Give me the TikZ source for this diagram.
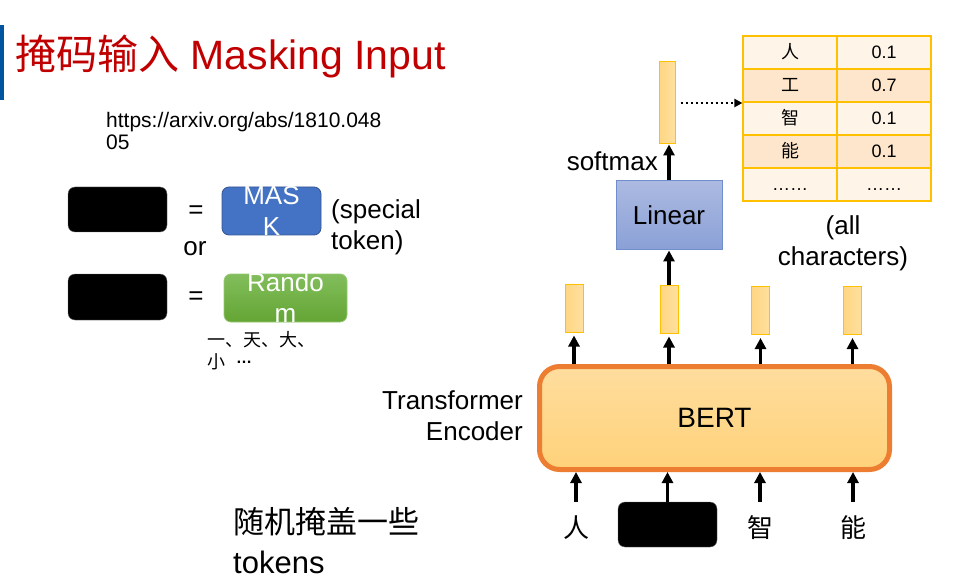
\documentclass[tikz,border=0pt]{standalone}
\usepackage{fontspec}
\setmainfont{Liberation Sans}
\newfontfamily\cjk{Noto Sans CJK SC}
\usetikzlibrary{positioning,arrows.meta}
\definecolor{titlered}{RGB}{192,0,0}
\definecolor{barblue}{RGB}{0,84,160}
\definecolor{maskblue}{RGB}{68,114,196}
\definecolor{randtop}{RGB}{130,190,92}
\definecolor{randbot}{RGB}{100,165,52}
\definecolor{vecgold}{RGB}{255,192,0}
\definecolor{vecfill}{RGB}{255,214,130}
\definecolor{vecfillB}{RGB}{255,224,160}
\definecolor{lintop}{RGB}{172,186,226}
\definecolor{linbot}{RGB}{138,160,214}
\definecolor{linedge}{RGB}{112,142,204}
\definecolor{bertedge}{RGB}{237,125,49}
\definecolor{berttop}{RGB}{255,221,158}
\definecolor{bertbot}{RGB}{255,210,122}
\definecolor{cellpale}{RGB}{254,244,232}
\definecolor{celldeep}{RGB}{253,230,203}
\tikzset{
  txt/.style     = {inner sep=0pt, align=center, font=\fontsize{26}{31}\selectfont},
  hidden/.style  = {draw=black!60, fill=black, rounded corners=7pt, minimum width=99pt, minimum height=45pt, inner sep=0pt},
  maskbox/.style = {fill=maskblue, draw=maskblue!75!black, line width=0.8pt, rounded corners=7pt, minimum width=99pt, minimum height=48pt, inner sep=0pt},
  randbox/.style = {top color=randtop, bottom color=randbot, draw=randtop!85!white, line width=0.8pt, rounded corners=7pt, minimum width=123pt, minimum height=48pt, inner sep=0pt},
  vec/.style     = {draw=vecgold, line width=1pt, left color=vecfill, right color=vecfillB, minimum width=18pt, minimum height=48pt, inner sep=0pt},
  cell/.style    = {draw=vecgold, line width=1.2pt, minimum width=94pt, minimum height=33pt, inner sep=0pt, text height=13pt, text depth=0pt, font=\fontsize{18}{20}\selectfont},
  linbox/.style  = {top color=lintop, bottom color=linbot, draw=linedge, line width=1pt, minimum width=106pt, minimum height=69pt, inner sep=0pt, font=\fontsize{26}{31}\selectfont},
  bertbox/.style = {top color=berttop, bottom color=bertbot, draw=bertedge, line width=5pt, rounded corners=20pt, minimum width=350pt, minimum height=103pt, inner sep=0pt, font=\fontsize{28}{32}\selectfont},
  tok/.style     = {inner sep=0pt, minimum height=52pt, font=\cjk\fontsize{26}{30}\selectfont},
  flow/.style    = {-{Triangle[length=11pt,width=11pt]}, line width=3.2pt},
  dotflow/.style = {-{Triangle[length=8pt,width=8pt]}, line width=2.8pt, dash pattern=on 2.8pt off 2.2pt},
}
\begin{document}
\begin{tikzpicture}[x=1pt,y=-1pt]
  \useasboundingbox (0,0) rectangle (955,585);
  \fill[barblue] (0,25) rectangle (4,100);
  \node[anchor=west, inner sep=0pt, text=titlered, font=\fontsize{41}{48}\selectfont] (title) at (15,56) {{\cjk 掩码输入} Masking Input};
  \node[anchor=base west, inner sep=0pt, font=\fontsize{21}{23}\selectfont] (url) at (106,128) {https://arxiv.org/abs/1810.048};
  \node[anchor=base west, inner sep=0pt, font=\fontsize{21}{23}\selectfont] (urltail) at (106,150) {05};

  % masked token = [MASK] or random character
  \node[hidden] (maskA) at (117.5,209.5) {};
  \node[txt] (eqA) at (196,212) {=};
  \node[maskbox] (mask) at (271.5,211) {};
  \node[txt, text=white] (masklbl) at (mask.center) {MAS\\K};
  \node[txt, align=left, anchor=west] (special) at (331,227) {(special\\token)};
  \node[txt] (or) at (195,249) {or};
  \node[hidden, minimum height=46pt] (maskB) at (117.5,297) {};
  \node[txt] (eqB) at (196,298) {=};
  \node[randbox] (rand) at (285.5,298) {};
  \node[txt, text=white] (randlbl) at (rand.center) {Rando\\m};
  \node[anchor=west, align=left, inner sep=0pt, font=\cjk\fontsize{18}{22}\selectfont] (picks) at (207,351)
    {一、天、大、\\小\hspace{11pt}\raisebox{5pt}{\rmfamily\bfseries\fontsize{16}{16}\selectfont …}};
  \node[anchor=west, align=left, inner sep=0pt, font=\fontsize{31}{40}\selectfont] (note) at (233,541) {{\cjk 随机掩盖一些}\\tokens};

  % encoder
  \node[bertbox] (bert) at (714.5,418) {BERT};
  \node[txt, align=right, anchor=east] (enc) at (523,416) {Transformer\\Encoder};
  \node[tok] (tin1) at (576,528) {人};
  \node[hidden] (tin2) at (667.5,524.5) {};
  \node[tok] (tin3) at (760,528) {智};
  \node[tok] (tin4) at (853,528) {能};
  \foreach \i in {1,...,4}
    \draw[flow] (tin\i.north) -- (tin\i.north |- bert.south);
  \foreach \x/\y [count=\i] in {574/308, 669/309, 760.5/310.5, 852.5/310.5}
    \node[vec] (out\i) at (\x,\y) {};
  \foreach \i in {1,...,4}
    \draw[flow] (out\i.south |- bert.north) -- ([yshift=-3pt]out\i.south);

  % prediction head
  \node[linbox] (linear) at (669,215.5) {Linear};
  \node[vec, minimum width=16pt, minimum height=82pt] (probs) at (667,103) {};
  \node[txt, anchor=east] (smax) at (658,161) {softmax};
  \draw[flow] (out2.north) -- (linear.south);
  \draw[flow] (linear.north) -- (linear.north |- probs.south);

  % output distribution
  \foreach \ch/\pv/\tone [count=\r] in {{\cjk 人}/0.1/cellpale, {\cjk 工}/0.7/celldeep, {\cjk 智}/0.1/cellpale, {\cjk 能}/0.1/celldeep, ……/……/cellpale}{
    \node[cell, fill=\tone] (ch\r) at (790,19.5+33*\r) {\ch};
    \node[cell, fill=\tone] (pr\r) at (884,19.5+33*\r) {\pv};
  }
  \draw[dotflow, shorten <=5pt] (probs.east) -- (probs.east -| ch1.west);
  \node[txt] (allch) at (843,243) {(all\\characters)};
\end{tikzpicture}
\end{document}
